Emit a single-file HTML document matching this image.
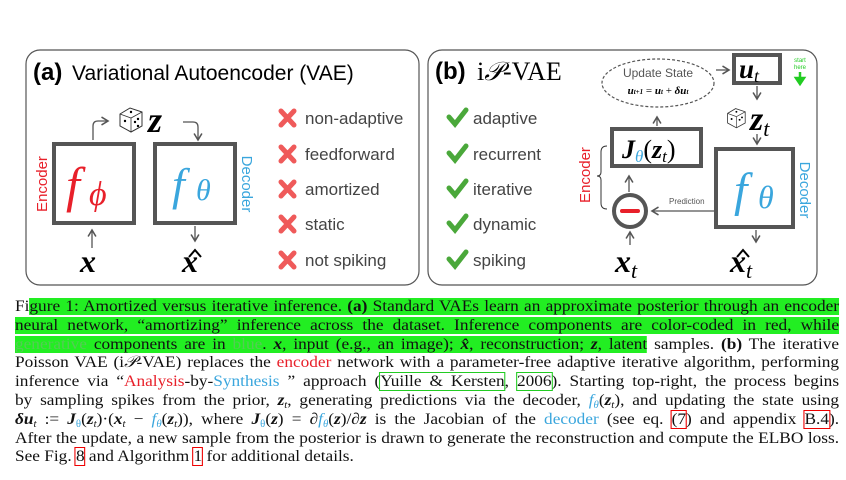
<!DOCTYPE html>
<html><head><meta charset="utf-8"><style>
body{margin:0;background:#fff;width:846px;height:480px;overflow:hidden;position:relative}
svg{position:absolute;left:0;top:0}
.cap{position:absolute;left:15px;top:298px;width:763px;transform:scaleX(1.08);transform-origin:0 0;font-family:"Liberation Serif",serif;font-size:16px;color:#111}
.ln{height:18.8px;line-height:18.8px;white-space:nowrap;text-align:justify;text-align-last:justify}
.ln.l{text-align-last:left}
.g{background:#22ee22}
.r{color:#e8202a}.b{color:#3aa6dd}
.bx{outline:1.5px solid #e00;}
.gx{outline:1.5px solid #2c2;}
sub{font-size:10px;line-height:0;vertical-align:-3px}
</style></head><body>
<svg width="846" height="296" font-family="Liberation Sans,sans-serif">
<defs><marker id="a" markerWidth="8" markerHeight="8" refX="6" refY="4" orient="auto"><path d="M1,1 L6,4 L1,7" fill="none" stroke="#555" stroke-width="1.2"/></marker></defs>
<rect x="26" y="50" width="393" height="235" rx="14" fill="#fff" stroke="#555" stroke-width="1.2"/>
<rect x="428" y="50" width="389" height="235" rx="14" fill="#fff" stroke="#555" stroke-width="1.2"/>
<text x="33" y="80" font-size="24" font-weight="bold">(a)</text>
<text x="72" y="80" font-size="21">Variational Autoencoder (VAE)</text>
<rect x="54" y="144" width="80" height="79" fill="none" stroke="#555" stroke-width="4"/>
<rect x="155" y="144" width="80" height="79" fill="none" stroke="#555" stroke-width="4"/>
<text x="66" y="202" font-family="Liberation Serif,serif" font-style="italic" font-size="50" fill="#e8202a">f</text>
<text x="89" y="205" font-family="Liberation Serif,serif" font-style="italic" font-size="34" fill="#e8202a">ϕ</text>
<text x="172" y="200" font-family="Liberation Serif,serif" font-style="italic" font-size="46" fill="#3aa6dd">f</text>
<text x="196" y="200" font-family="Liberation Serif,serif" font-style="italic" font-size="30" fill="#3aa6dd">θ</text>
<text transform="translate(47,184) rotate(-90)" text-anchor="middle" font-size="15" fill="#e8202a">Encoder</text>
<text transform="translate(242,184) rotate(90)" text-anchor="middle" font-size="15" fill="#3aa6dd">Decoder</text>
<path d="M93,140 V126 Q93,121 98,121 H108" fill="none" stroke="#555" stroke-width="1.3" marker-end="url(#a)"/>
<path d="M183,122 H193 Q198,122 198,127 V140" fill="none" stroke="#555" stroke-width="1.3" marker-end="url(#a)"/>
<path d="M92,248 V230" stroke="#555" stroke-width="1.3" marker-end="url(#a)"/>
<path d="M195,226 V241" stroke="#555" stroke-width="1.3" marker-end="url(#a)"/>
<g transform="translate(118,106)"><path d="M2,8 L12,2 L24,6 L24,20 L13,26 L2,20Z" fill="#fff" stroke="#333" stroke-width="1"/><path d="M2,8 L13,12 L24,6 M13,12 V26" stroke="#333" fill="none" stroke-width="0.8"/><circle cx="7" cy="15" r="1.2"/><circle cx="17" cy="16" r="1.2"/><circle cx="20" cy="13" r="1.2"/><circle cx="13" cy="6" r="1.2"/><circle cx="20" cy="20" r="1.2"/></g>
<text x="148" y="132" font-family="Liberation Serif,serif" font-style="italic" font-weight="bold" font-size="36">z</text>
<text x="80" y="272" font-family="Liberation Serif,serif" font-style="italic" font-weight="bold" font-size="32">x</text>
<text x="182" y="272" font-family="Liberation Serif,serif" font-style="italic" font-weight="bold" font-size="32">x</text>
<path d="M189,257 L195,250 L201,257" fill="none" stroke="#000" stroke-width="2"/>
<g font-size="17" fill="#444">
<g stroke="#ef5a5a" stroke-width="5" stroke-linecap="round">
<path d="M281,111 L294,125 M294,111 L281,125"/><path d="M281,147 L294,161 M294,147 L281,161"/><path d="M281,182 L294,196 M294,182 L281,196"/><path d="M281,217 L294,231 M294,217 L281,231"/><path d="M281,253 L294,267 M294,253 L281,267"/></g>
<text x="305" y="124">non-adaptive</text><text x="305" y="160">feedforward</text><text x="305" y="195">amortized</text><text x="305" y="230">static</text><text x="305" y="266">not spiking</text>
<g stroke="#4aa83a" stroke-width="5" stroke-linecap="round" fill="none">
<path d="M449,117 L455,124 L466,110"/><path d="M449,153 L455,160 L466,146"/><path d="M449,188 L455,195 L466,181"/><path d="M449,223 L455,230 L466,216"/><path d="M449,259 L455,266 L466,252"/></g>
<text x="473" y="124">adaptive</text><text x="473" y="160">recurrent</text><text x="473" y="195">iterative</text><text x="473" y="230">dynamic</text><text x="473" y="266">spiking</text>
</g>
<text x="435" y="79" font-size="24" font-weight="bold">(b)</text>
<text x="477" y="80" font-family="Liberation Serif,serif" font-size="26">i<tspan font-style="italic">𝒫</tspan>-VAE</text>
<ellipse cx="658" cy="83" rx="56" ry="24" fill="none" stroke="#555" stroke-width="1.2" stroke-dasharray="3,2"/>
<text x="658" y="77" text-anchor="middle" font-size="12" fill="#555">Update State</text>
<text x="658" y="94" text-anchor="middle" font-family="Liberation Serif,serif" font-size="11" font-weight="bold" font-style="italic">u<tspan font-size="7">t+1</tspan> <tspan font-style="normal" font-weight="normal">=</tspan> u<tspan font-size="7">t</tspan> <tspan font-style="normal" font-weight="normal">+</tspan> δu<tspan font-size="7">t</tspan></text>
<path d="M716,70 H729" stroke="#555" stroke-width="1.3" marker-end="url(#a)"/>
<rect x="734" y="55" width="46" height="28" fill="none" stroke="#555" stroke-width="4"/>
<text x="739" y="78" font-family="Liberation Serif,serif" font-style="italic" font-weight="bold" font-size="27">u<tspan font-size="18" font-weight="normal" dy="4">t</tspan></text>
<text x="800" y="62" text-anchor="middle" font-size="6" fill="#2c2">start</text><text x="800" y="69" text-anchor="middle" font-size="6" fill="#2c2">here</text>
<path d="M800,72 V80 M796,78 L800,84 L804,78Z" stroke="#2c2" stroke-width="2.5" fill="#2c2"/>
<path d="M757,86 V99" stroke="#555" stroke-width="1.3" marker-end="url(#a)"/>
<g transform="translate(726,107) scale(0.8)"><path d="M2,8 L12,2 L24,6 L24,20 L13,26 L2,20Z" fill="#fff" stroke="#333" stroke-width="1"/><path d="M2,8 L13,12 L24,6 M13,12 V26" stroke="#333" fill="none" stroke-width="0.8"/><circle cx="7" cy="15" r="1.2"/><circle cx="17" cy="16" r="1.2"/><circle cx="20" cy="13" r="1.2"/><circle cx="13" cy="6" r="1.2"/></g>
<text x="750" y="130" font-family="Liberation Serif,serif" font-style="italic" font-weight="bold" font-size="34">z<tspan font-size="22" font-weight="normal" dy="6">t</tspan></text>
<path d="M757,134 V144" stroke="#555" stroke-width="1.3" marker-end="url(#a)"/>
<rect x="716" y="149" width="77" height="78" fill="none" stroke="#555" stroke-width="4"/>
<text x="734" y="206" font-family="Liberation Serif,serif" font-style="italic" font-size="48" fill="#3aa6dd">f</text>
<text x="758" y="208" font-family="Liberation Serif,serif" font-style="italic" font-size="32" fill="#3aa6dd">θ</text>
<text transform="translate(800,190) rotate(90)" text-anchor="middle" font-size="15" fill="#3aa6dd">Decoder</text>
<path d="M756,230 V242" stroke="#555" stroke-width="1.3" marker-end="url(#a)"/>
<text x="730" y="272" font-family="Liberation Serif,serif" font-style="italic" font-weight="bold" font-size="32">x<tspan font-size="22" font-weight="normal" dy="6">t</tspan></text>
<path d="M737,257 L743,250 L749,257" fill="none" stroke="#000" stroke-width="2"/>
<rect x="612" y="129" width="89" height="37" fill="none" stroke="#555" stroke-width="4"/>
<text x="622" y="158" font-family="Liberation Serif,serif" font-size="26"><tspan font-style="italic" font-weight="bold">J</tspan><tspan font-style="italic" fill="#3aa6dd" font-size="17" dy="4">θ</tspan><tspan dy="-4">(</tspan><tspan font-style="italic" font-weight="bold">z</tspan><tspan font-style="italic" font-size="17" dy="4">t</tspan><tspan dy="-4">)</tspan></text>
<path d="M657,126 V117" stroke="#555" stroke-width="1.3" marker-end="url(#a)"/>
<path d="M629,192 V176" stroke="#555" stroke-width="1.3" marker-end="url(#a)"/>
<circle cx="630" cy="211" r="16" fill="none" stroke="#555" stroke-width="4"/>
<path d="M622,211 H638" stroke="#e8202a" stroke-width="4" stroke-linecap="round"/>
<path d="M714,211 H652" stroke="#555" stroke-width="1.3" marker-end="url(#a)"/>
<text x="669" y="204" font-size="8" fill="#555">Prediction</text>
<path d="M630,245 V232" stroke="#555" stroke-width="1.3" marker-end="url(#a)"/>
<text x="615" y="272" font-family="Liberation Serif,serif" font-style="italic" font-weight="bold" font-size="32">x<tspan font-size="22" font-weight="normal" dy="6">t</tspan></text>
<text transform="translate(590,175) rotate(-90)" text-anchor="middle" font-size="15" fill="#e8202a">Encoder</text>
<path d="M607,146 Q601,146 601,152 V172 Q601,176 597,176 Q601,176 601,180 V203 Q601,209 607,209" fill="none" stroke="#333" stroke-width="1"/>
</svg>
<div class="cap">
<div class="ln">Fi<span class="g">gure 1: Amortized versus iterative inference. <b>(a)</b> Standard VAEs learn an approximate posterior through an encoder</span></div>
<div class="ln"><span class="g">neural network, “amortizing” inference across the dataset. Inference components are color-coded in red, while</span></div>
<div class="ln"><span class="g"><span style="color:#5c5">generative</span> components are in <span style="color:#5c5">blue</span>. <b><i>x</i></b>, input (e.g., an image); <b><i>x̂</i></b>, reconstruction; <b><i>z</i></b>, latent</span> samples. <b>(b)</b> The iterative</div>
<div class="ln">Poisson VAE (i<i>𝒫</i>-VAE) replaces the <span class="r">encoder</span> network with a parameter-free adaptive iterative algorithm, performing</div>
<div class="ln">inference via “<span class="r">Analysis</span>-by-<span class="b">Synthesis</span> ” approach (<span class="gx">Yuille &amp; Kersten</span>, <span class="gx">2006</span>). Starting top-right, the process begins</div>
<div class="ln">by sampling spikes from the prior, <b><i>z</i></b><sub><i>t</i></sub>, generating predictions via the decoder, <i class="b">f<sub>θ</sub></i>(<b><i>z</i></b><sub><i>t</i></sub>), and updating the state using</div>
<div class="ln"><b><i>δu</i></b><sub><i>t</i></sub> := <b><i>J</i></b><sub class="b">θ</sub>(<b><i>z</i></b><sub><i>t</i></sub>)·(<b><i>x</i></b><sub><i>t</i></sub> − <i class="b">f<sub>θ</sub></i>(<b><i>z</i></b><sub><i>t</i></sub>)), where <b><i>J</i></b><sub class="b">θ</sub>(<b><i>z</i></b>) = ∂<i class="b">f<sub>θ</sub></i>(<b><i>z</i></b>)/∂<b><i>z</i></b> is the Jacobian of the <span class="b">decoder</span> (see eq. <span class="bx">(7</span>) and appendix <span class="bx">B.4</span>).</div>
<div class="ln">After the update, a new sample from the posterior is drawn to generate the reconstruction and compute the ELBO loss.</div>
<div class="ln l">See Fig. <span class="bx">8</span> and Algorithm <span class="bx">1</span> for additional details.</div>
</div>
</body></html>
